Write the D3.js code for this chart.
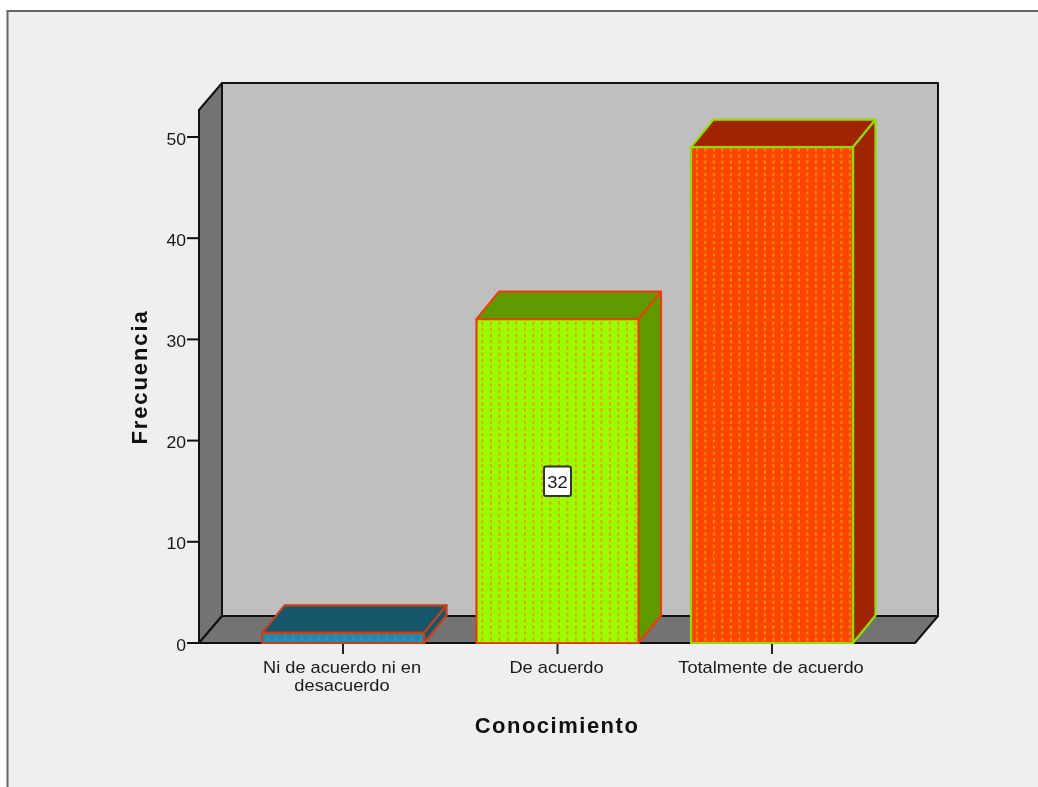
<!DOCTYPE html>
<html><head><meta charset="utf-8">
<script src="https://cdn.jsdelivr.net/npm/d3@7"></script>
<style>html,body{margin:0;padding:0;background:#fff;overflow:hidden}svg{display:block;filter:blur(.4px)}text{font-family:"Liberation Sans",Arial,sans-serif;fill:#1a1a1a}</style>
</head><body><div id="c"></div>
<script>
const categories=["Ni de acuerdo ni en|desacuerdo","De acuerdo","Totalmente de acuerdo"];
const values=[1,32,49];
const labeled=[null,32,null];
const yTicks=[0,10,20,30,40,50];
const faceColors=["#2a86a8","#99ff00","#ff4400"];
const sideColors=["#16566a","#5f9b00","#a02400"];
const dotColors=["#2f9ec0","#ff8a00","#e09a00"];
const edgeColors=["#c8401a","#e8400a","#8fe000"];
const xTitle="Conocimiento", yTitle="Frecuencia";

const W=1038,H=787;
const svg=d3.select("#c").append("svg").attr("width",W).attr("height",H);
const y=d3.scaleLinear().domain([0,50]).range([643,137]);
const x=d3.scalePoint().domain(categories).range([343,772]);
const barW=162,dx=22.5,dy=-27.5;
const L=199,R=915,yTop=y(52.67),y0=y(0);
const stretch=1.14;

svg.append("rect").attr("x",7.5).attr("y",11).attr("width",W).attr("height",H).attr("fill","#efefef").attr("stroke","#666").attr("stroke-width",2);

const defs=svg.append("defs");
faceColors.forEach((c,i)=>{
  const p=defs.append("pattern").attr("id","p"+i).attr("patternUnits","userSpaceOnUse").attr("width",8.5).attr("height",6.2).attr("x",x(categories[i])-barW/2+3).attr("y",y0);
  p.append("rect").attr("width",8.5).attr("height",6.2).attr("fill",c);
  p.append("rect").attr("x",2).attr("y",1).attr("width",1.8).attr("height",3.2).attr("fill",dotColors[i]);
});

const poly=(pts,fill,stroke,sw)=>svg.append("polygon").attr("points",pts.map(p=>p.join(",")).join(" ")).attr("fill",fill).attr("stroke",stroke).attr("stroke-width",sw).attr("stroke-linejoin","round");
poly([[L,yTop],[L+dx+.5,yTop-27],[L+dx+.5,y0-27],[L,y0]],"#737373","#111",2);
poly([[L+dx+.5,yTop-27],[R+dx+.5,yTop-27],[R+dx+.5,y0-27],[L+dx+.5,y0-27]],"#bfbfbf","#111",2);
poly([[L,y0],[L+dx+.5,y0-27],[R+dx+.5,y0-27],[R,y0]],"#737373","#111",2);

const axisY=d3.axisLeft(y).tickValues(yTicks).tickSize(12).tickPadding(1).offset(0);
const gy=svg.append("g").attr("transform",`translate(${L},0)`).call(axisY);
gy.select(".domain").remove();
gy.selectAll("line").attr("stroke","#111").attr("stroke-width",2);
gy.selectAll("text").style("font-size","16px").attr("fill","#1a1a1a").attr("x",0)
  .attr("transform",`translate(-13,2.5) scale(1.1,1)`);

const gx=svg.append("g").attr("transform",`translate(0,${y0})`).call(d3.axisBottom(x).tickSize(11).tickFormat("").offset(-.5));
gx.select(".domain").remove();
gx.selectAll("line").attr("stroke","#222").attr("stroke-width",2);

categories.forEach((c,i)=>{
  const cx=x(c),l=cx-barW/2,r=cx+barW/2,t=y(values[i]),e=edgeColors[i];
  poly([[l,t],[l+dx,t+dy],[r+dx,t+dy],[r,t]],sideColors[i],e,2.2);
  poly([[r,t],[r+dx,t+dy],[r+dx,y0+dy],[r,y0]],sideColors[i],e,2.2);
  poly([[l,t],[r,t],[r,y0],[l,y0]],`url(#p${i})`,e,2.2);
  c.split("|").forEach((s,j)=>svg.append("text").attr("transform",`translate(${cx-1},${673+j*18}) scale(${stretch},1)`).attr("text-anchor","middle").style("font-size","16px").text(s));
  if(labeled[i]!==null){
    const my=(t+y0)/2;
    svg.append("rect").attr("x",cx-13.5).attr("y",my-14.5).attr("width",27).attr("height",29.5).attr("rx",2).attr("fill","#fff").attr("stroke","#333").attr("stroke-width",2);
    svg.append("text").attr("transform",`translate(${cx},${my+6.5}) scale(1.08,1)`).attr("text-anchor","middle").style("font-size","17px").text(labeled[i]);
  }
});

svg.append("text").attr("x",557).attr("y",733).attr("text-anchor","middle").style("font-size","22px").style("font-weight","bold").style("letter-spacing","1.5px").style("fill","#111").text(xTitle);
svg.append("text").attr("transform","translate(146.5,377) rotate(-90)").attr("text-anchor","middle").style("font-size","22px").style("font-weight","bold").style("letter-spacing","1.9px").style("fill","#111").text(yTitle);
</script></body></html>
